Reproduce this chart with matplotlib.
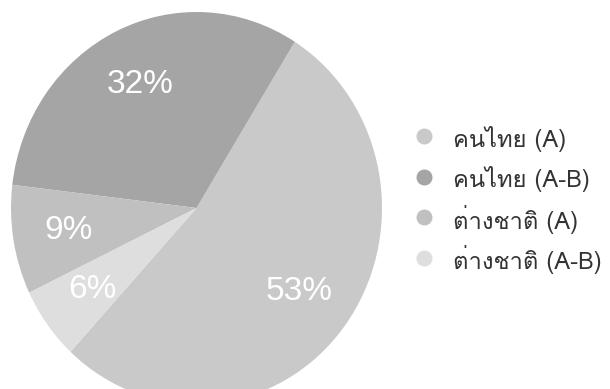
import matplotlib
matplotlib.use('Agg')
import matplotlib.pyplot as plt
from matplotlib.lines import Line2D

# ข้อมูล
labels = ['คนไทย (A)', 'คนไทย (A-B)', 'ต่างชาติ (A)', 'ต่างชาติ (A-B)']
shares = [53, 32, 9, 6]
colors = ['#c9c9c9', '#a5a5a5', '#c0c0c0', '#dedede']

W, H = 610, 389
fig = plt.figure(figsize=(W / 100, H / 100), dpi=100)
# วงกลมในต้นฉบับยืดแนวตั้งเล็กน้อย
ax = fig.add_axes([11 / W, (H - 404) / H, 371 / W, 392 / H])

wedges, texts, autotexts = ax.pie(
    shares, colors=colors, startangle=227.2, counterclock=True,
    autopct='%.0f%%', pctdistance=0.7,
    wedgeprops=dict(linewidth=0),
    textprops=dict(color='white', fontsize=24, family='Liberation Sans'))
ax.set_xlim(-1, 1)
ax.set_ylim(-1, 1)
ax.set_aspect('auto')

# คำอธิบายสัญลักษณ์ วางเองทีละแถว
thai = ['Loma', 'DejaVu Sans']
row_y = [136, 176.5, 217, 257.5]
legend_texts = []
for lab, c, y in zip(labels, colors, row_y):
    fig.add_artist(Line2D([424 / W], [1 - y / H], marker='o', markersize=10.5,
                          markerfacecolor=c, markeredgecolor=c,
                          transform=fig.transFigure))
    legend_texts.append(fig.text(453 / W, 1 - y / H, lab, va='center_baseline',
                                 ha='left', color='#333333', family=thai,
                                 fontsize=14))

# ปรับขนาดตัวอักษรให้แถวที่ยาวที่สุดกว้าง ~148 px และไม่ล้นขอบ
fig.canvas.draw()
r = fig.canvas.get_renderer()
w = max(t.get_window_extent(r).width for t in legend_texts)
for t in legend_texts:
    t.set_fontsize(14 * 148 / w)

fig.savefig('out.png', dpi=100)
